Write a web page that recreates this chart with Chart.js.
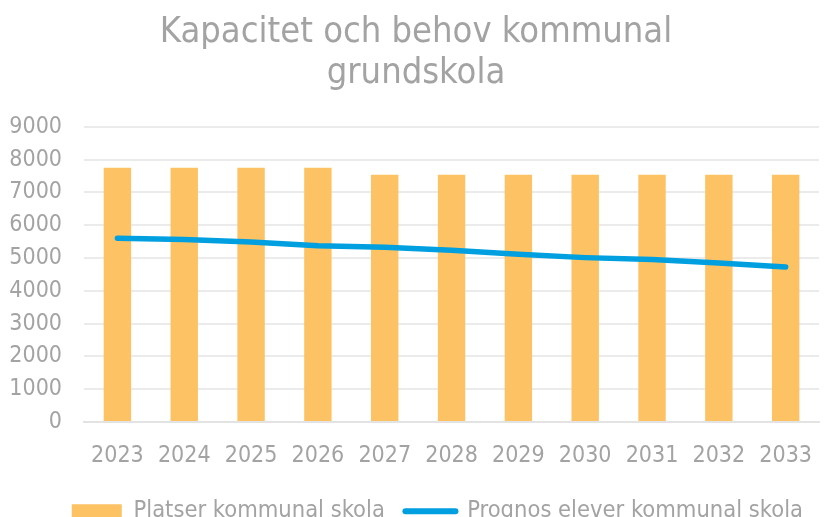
<!DOCTYPE html>
<html>
<head>
<meta charset="utf-8">
<script src="https://cdn.jsdelivr.net/npm/chart.js@4"></script>
<style>
  html, body { margin: 0; padding: 0; background: #fff; overflow: hidden; }
  #wrap { width: 832px; height: 539px; position: relative; }
</style>
</head>
<body>
<div id="wrap"><canvas id="chart"></canvas></div>
<script>
const years = ['2023', '2024', '2025', '2026', '2027', '2028', '2029', '2030', '2031', '2032', '2033'];
const platser = [7750, 7750, 7750, 7750, 7540, 7540, 7540, 7540, 7540, 7540, 7540];
const prognos = [5600, 5565, 5490, 5370, 5330, 5235, 5115, 5010, 4950, 4845, 4725];
const yTicks = [0, 1000, 2000, 3000, 4000, 5000, 6000, 7000, 8000, 9000];

const textColor = '#a3a3a3';
const fontFamily = '"DejaVu Sans Condensed", "DejaVu Sans", sans-serif';

const ctx = document.getElementById('chart');

new Chart(ctx, {
  data: {
    labels: years,
    datasets: [
      {
        type: 'line',
        label: 'Prognos elever kommunal skola',
        data: prognos,
        borderColor: '#009fe0',
        backgroundColor: '#009fe0',
        borderWidth: 5.5,
        borderCapStyle: 'round',
        pointRadius: 0,
        tension: 0,
        order: 0
      },
      {
        type: 'bar',
        label: 'Platser kommunal skola',
        data: platser,
        backgroundColor: '#fdc263',
        categoryPercentage: 1,
        barPercentage: 0.41,
        order: 1
      }
    ]
  },
  options: {
    responsive: true,
    maintainAspectRatio: false,
    animation: false,
    layout: {
      padding: { left: 0, right: 0, top: 12, bottom: 6 }
    },
    plugins: {
      title: {
        display: true,
        text: ['Kapacitet och behov kommunal', 'grundskola'],
        color: textColor,
        font: { family: fontFamily, size: 36, weight: 'normal', lineHeight: 1.15 },
        padding: { top: 0, bottom: 32 }
      },
      legend: {
        position: 'bottom',
        align: 'end',
        reverse: true,
        labels: {
          color: textColor,
          font: { family: fontFamily, size: 23.5 },
          usePointStyle: true,
          pointStyleWidth: 50,
          boxHeight: 14,
          padding: 10,
          generateLabels: (chart) => {
            const items = Chart.defaults.plugins.legend.labels.generateLabels(chart);
            items.forEach(it => {
              const ds = chart.data.datasets[it.datasetIndex];
              if (ds.type === 'line') {
                it.pointStyle = 'line';
                it.lineWidth = 6;
                it.lineCap = 'round';
                it.strokeStyle = '#009fe0';
                it.text = it.text + '\u2002\u2009\u2009';
              } else {
                it.pointStyle = 'rect';
                it.lineWidth = 0;
                it.text = it.text + '\u2002';
              }
            });
            return items;
          }
        }
      },
      tooltip: { enabled: false }
    },
    scales: {
      x: {
        grid: { display: false, drawTicks: false },
        border: { display: true, color: '#e3e3e3', width: 2 },
        ticks: {
          color: textColor,
          font: { family: fontFamily, size: 23 },
          padding: 20,
          maxRotation: 0
        }
      },
      y: {
        min: 0,
        max: 9000,
        afterBuildTicks: (scale) => { scale.ticks = yTicks.map(v => ({ value: v })); },
        afterFit: (scale) => { scale.width = 84; },
        grid: { color: '#ebebeb', lineWidth: 2, drawTicks: false },
        border: { display: false },
        ticks: {
          color: textColor,
          font: { family: fontFamily, size: 23 },
          padding: 22,
          callback: (v) => String(v)
        }
      }
    }
  }
});
</script>
</body>
</html>
